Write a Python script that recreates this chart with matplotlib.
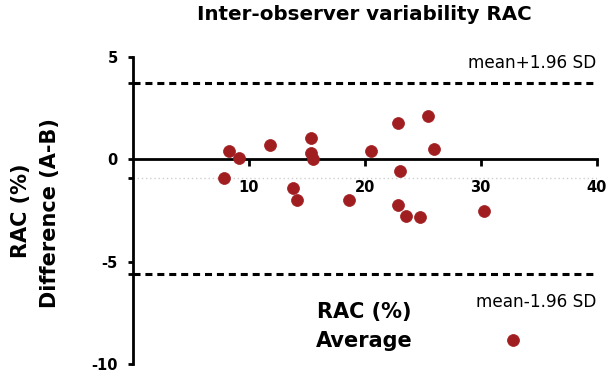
import matplotlib
matplotlib.use("Agg")
import matplotlib.pyplot as plt

# Data (Bland-Altman style)
average = [8.32, 9.18, 7.87, 11.88, 13.83, 14.17, 15.35, 15.35, 15.55, 18.64,
           20.57, 22.85, 25.43, 26.01, 23.09, 22.92, 23.58, 24.78, 30.25, 32.8]
difference = [0.40, 0.08, -0.93, 0.70, -1.38, -1.99, 1.02, 0.29, 0.01, -1.99,
              0.42, 1.76, 2.11, 0.50, -0.57, -2.23, -2.77, -2.80, -2.52, -8.81]
mean_diff = -0.93
upper_loa = 3.71
lower_loa = -5.58
x_ticks = [10, 20, 30, 40]
y_ticks = [-10, -5, 0, 5]

title = "Inter-observer variability RAC"
upper_label = "mean+1.96 SD"
lower_label = "mean-1.96 SD"
xlabel_lines = ["RAC (%)", "Average"]
ylabel_lines = ["RAC (%)", "Difference (A-B)"]

plt.rcParams['font.family'] = ['DejaVu Sans']

W, H = 608, 379
fig = plt.figure(figsize=(W / 100, H / 100), dpi=100)
ax = fig.add_axes([132.5 / W, 1 - 364.3 / H, (596.7 - 132.5) / W, (364.3 - 56.7) / H])
ax.set_xlim(0, 40)
ax.set_ylim(-10, 5)

red = '#a01d20'
ax.plot([0, 40], [mean_diff, mean_diff], color='#cfcfcf', lw=1.0, ls=(0, (1, 2)), zorder=1)
ax.plot([0, 40], [upper_loa, upper_loa], color='black', lw=2.2, ls=(0, (2.3, 1.6)), zorder=2)
ax.plot([0, 40], [lower_loa, lower_loa], color='black', lw=2.2, ls=(0, (2.3, 1.6)), zorder=2)
ax.plot(average, difference, 'o', color=red, markersize=8.6, markeredgecolor=red,
        markeredgewidth=0.5, zorder=3, clip_on=False)

for s in ['top', 'right']:
    ax.spines[s].set_visible(False)
ax.spines['left'].set_linewidth(2.0)
ax.spines['bottom'].set_linewidth(2.0)
ax.spines['bottom'].set_position(('data', 0))
ax.spines['bottom'].set_bounds(0, 40)

ax.set_xticks(x_ticks)
ax.set_xticklabels([str(t) for t in x_ticks], fontsize=10.5, fontweight='bold')
ax.set_yticks(y_ticks)
ax.set_yticklabels([str(t) for t in y_ticks], fontsize=10.5, fontweight='bold')
ax.set_yticks([lower_loa, mean_diff, upper_loa], minor=True)
ax.tick_params(axis='x', direction='out', length=4.8, width=2.0, pad=10)
ax.tick_params(axis='y', which='both', direction='out', length=3.6, width=2.0, pad=7)

ax.text(40, 4.71, upper_label, ha='right', va='center', fontsize=12.2)
ax.text(40, -6.95, lower_label, ha='right', va='center', fontsize=12.2)

ax.text(20, -7.46, xlabel_lines[0], ha='center', va='center', fontsize=15, fontweight='bold')
ax.text(20, -8.88, xlabel_lines[1], ha='center', va='center', fontsize=15, fontweight='bold')

fig.text(21 / W, 1 - 211 / H, ylabel_lines[0], rotation=90, ha='center', va='center',
         fontsize=15, fontweight='bold')
fig.text(50 / W, 1 - 213 / H, ylabel_lines[1], rotation=90, ha='center', va='center',
         fontsize=15, fontweight='bold')

fig.text(364 / W, 1 - 14 / H, title, ha='center', va='center', fontsize=14.3, fontweight='bold')

fig.savefig('out.png', dpi=100)
